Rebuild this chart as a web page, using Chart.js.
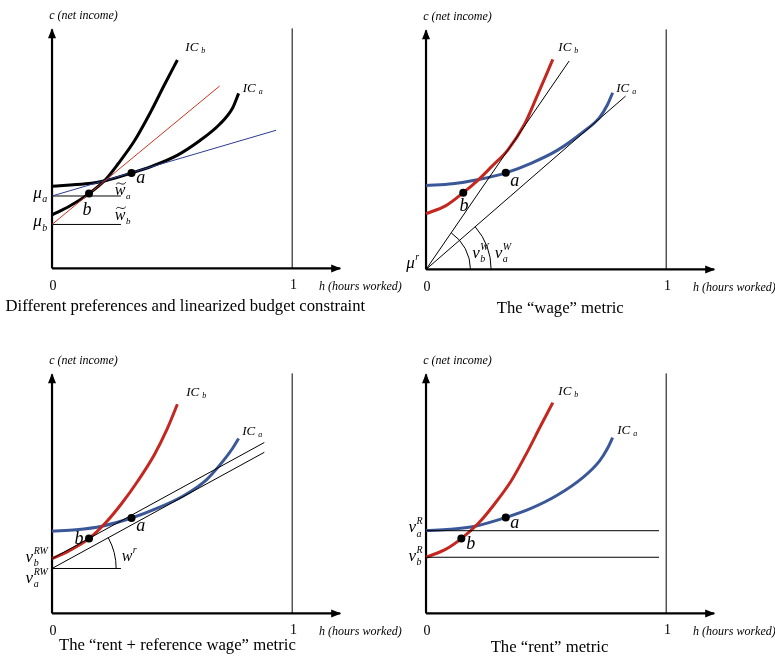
<!DOCTYPE html>
<html>
<head>
<meta charset="utf-8">
<script src="https://cdn.jsdelivr.net/npm/chart.js@4.4.1/dist/chart.umd.min.js"></script>
<style>
  body { margin: 0; width: 775px; height: 661px; overflow: hidden; background: #fff; position: relative; }
  canvas { position: absolute; }
</style>
</head>
<body>
<canvas id="p1" width="404" height="330" style="left:0;top:0"></canvas>
<canvas id="p2" width="404" height="330" style="left:374px;top:1px"></canvas>
<canvas id="p3" width="404" height="330" style="left:0;top:345px"></canvas>
<canvas id="p4" width="404" height="330" style="left:374px;top:345px"></canvas>
<script>
// text
var X_TITLE = 'h (hours worked)';
var Y_TITLE = 'c (net income)';
var CAPTIONS = [
  'Different preferences and linearized budget constraint',
  'The \u201cwage\u201d metric',
  'The \u201crent + reference wage\u201d metric',
  'The \u201crent\u201d metric'
];

// panel 1: different preferences, linearized budget constraint
var ICB1_H = [0, 0.072, 0.154, 0.222, 0.276, 0.344, 0.412, 0.467, 0.522];
var ICB1_C = [0.224, 0.260, 0.313, 0.371, 0.439, 0.535, 0.657, 0.766, 0.872];
var ICA1_H = [0, 0.140, 0.222, 0.331, 0.412, 0.521, 0.616, 0.698, 0.752, 0.777];
var ICA1_C = [0.344, 0.354, 0.367, 0.399, 0.426, 0.473, 0.535, 0.603, 0.671, 0.732];
var BUDGET_B1_H = [0, 0.698], BUDGET_B1_C = [0.184, 0.763];
var BUDGET_A1_H = [0, 0.933], BUDGET_A1_C = [0.303, 0.578];
var MU_A = 0.303, MU_B = 0.184, MU_LINE_END = 0.287;
var PTS1_H = [0.331, 0.154], PTS1_C = [0.399, 0.313];

// panel 2: wage metric
var ICB2_H = [0, 0.083, 0.155, 0.219, 0.273, 0.341, 0.410, 0.464, 0.505, 0.528];
var ICB2_C = [0.233, 0.267, 0.321, 0.376, 0.430, 0.500, 0.607, 0.729, 0.824, 0.879];
var ICA2_H = [0, 0.110, 0.219, 0.332, 0.437, 0.546, 0.654, 0.722, 0.756, 0.777];
var ICA2_C = [0.351, 0.358, 0.376, 0.404, 0.444, 0.498, 0.575, 0.635, 0.690, 0.739];
var RAY_B2_H = [0, 0.596], RAY_B2_C = [0, 0.872];
var RAY_A2_H = [0, 0.831], RAY_A2_C = [0, 0.725];
var ARC_B2 = 0.185, ARC_A2 = 0.271;
var PTS2_H = [0.332, 0.155], PTS2_C = [0.404, 0.321];

// panel 3: rent + reference wage metric
var ICB3_H = [0, 0.072, 0.154, 0.222, 0.290, 0.358, 0.426, 0.480, 0.522];
var ICB3_C = [0.229, 0.263, 0.313, 0.378, 0.460, 0.555, 0.664, 0.773, 0.875];
var ICA3_H = [0, 0.100, 0.208, 0.331, 0.439, 0.548, 0.644, 0.712, 0.752, 0.777];
var ICA3_C = [0.344, 0.350, 0.365, 0.399, 0.440, 0.492, 0.560, 0.637, 0.691, 0.732];
var REF_B3_H = [0, 0.884], REF_B3_C = [0.229, 0.715];
var REF_A3_H = [0, 0.884], REF_A3_C = [0.188, 0.674];
var REF_HLINE_END = 0.287, ARC_W3 = 0.267;
var PTS3_H = [0.331, 0.154], PTS3_C = [0.399, 0.313];

// panel 4: rent metric
var ICB4_H = [0, 0.083, 0.147, 0.219, 0.287, 0.355, 0.423, 0.478, 0.528];
var ICB4_C = [0.235, 0.269, 0.313, 0.378, 0.460, 0.555, 0.678, 0.786, 0.882];
var ICA4_H = [0, 0.100, 0.205, 0.332, 0.437, 0.546, 0.654, 0.722, 0.756, 0.777];
var ICA4_C = [0.347, 0.352, 0.365, 0.401, 0.439, 0.494, 0.569, 0.637, 0.691, 0.735];
var RENT_A4 = 0.346, RENT_B4 = 0.235, RENT_LINE_END = 0.970;
var PTS4_H = [0.332, 0.147], PTS4_C = [0.401, 0.313];

var RED = '#c4271f', BLUE = '#3a5797', BLACK = '#000';
var SERIF = '"Liberation Serif", "DejaVu Serif", serif';

// 245px per unit on both axes
var X_MIN = -0.2, X_MAX = -0.2 + 404 / 245;
var Y_MAX = 271 / 245, Y_MIN = Y_MAX - 330 / 245;

function pts(xs, ys) {
  return xs.map(function (x, i) { return { x: x, y: ys[i] }; });
}
function curve(xs, ys, color, width, order) {
  return { data: pts(xs, ys), showLine: true, borderColor: color, borderWidth: width,
           pointRadius: 0, cubicInterpolationMode: 'monotone', order: order };
}
function seg(xs, ys, color, width, order) {
  return { data: pts(xs, ys), showLine: true, borderColor: color, borderWidth: width,
           pointRadius: 0, tension: 0, order: order };
}
function dots(xs, ys) {
  return { data: pts(xs, ys), showLine: false, pointRadius: 4, pointBackgroundColor: BLACK,
           pointBorderWidth: 0, order: 0 };
}
function frame() {
  return [
    seg([0, 0], [0, 1.0], BLACK, 2.2, 9),
    seg([0, 1.2], [0, 0], BLACK, 2.2, 9),
    seg([1, 1], [0, 1.004], BLACK, 1, 9)
  ];
}

function tx(ctx, s, x, y, size, style, align) {
  ctx.font = (style || '') + ' ' + size + 'px ' + SERIF;
  ctx.textAlign = align || 'left';
  ctx.textBaseline = 'alphabetic';
  ctx.fillText(s, x, y);
  return ctx.measureText(s).width;
}
function sym(ctx, x, y, base, sub, sup, size) {
  var w = tx(ctx, base, x, y, size, 'italic');
  var s = Math.round(size * 0.6);
  if (sub) tx(ctx, sub, x + w + 0.5, y + size * 0.25, s, 'italic');
  if (sup) tx(ctx, sup, x + w + 0.5, y - size * 0.48, s, 'italic');
}
function tildeW(ctx, x, y, sub) {
  var w = tx(ctx, 'w', x, y, 16, 'italic');
  // tilde accent
  var a = x + 1.5, b = x + w + 0.5, t = y - 12;
  ctx.beginPath();
  ctx.moveTo(a, t + 1);
  ctx.bezierCurveTo(a + (b - a) * 0.3, t - 3, a + (b - a) * 0.6, t + 4, b, t - 1);
  ctx.strokeStyle = BLACK; ctx.lineWidth = 0.9;
  ctx.stroke();
  tx(ctx, sub, x + w + 0.5, y + 4, 9, 'italic');
}
function ic(ctx, x, y, sub) {
  var w = tx(ctx, 'IC', x, y, 13, 'italic');
  tx(ctx, sub, x + w + 3, y + 2, 8, 'italic');
}

function commonDeco(ctx, X, Y, caption, capX, capY) {
  ctx.fillStyle = BLACK;
  // arrowheads
  ctx.beginPath();
  ctx.moveTo(X(0), Y(1.0) - 1); ctx.lineTo(X(0) - 4, Y(1.0) + 9); ctx.lineTo(X(0) + 4, Y(1.0) + 9);
  ctx.closePath(); ctx.fill();
  ctx.beginPath();
  ctx.moveTo(X(1.2) + 1, Y(0)); ctx.lineTo(X(1.2) - 9, Y(0) - 4); ctx.lineTo(X(1.2) - 9, Y(0) + 4);
  ctx.closePath(); ctx.fill();
  tx(ctx, Y_TITLE, X(-0.012), Y(1.043), 12, 'italic');
  tx(ctx, X_TITLE, X(1.112), Y(-0.092), 12, 'italic');
  tx(ctx, '0', X(0.004), Y(-0.092), 14, '', 'center');
  tx(ctx, '1', X(1.006), Y(-0.084), 14, '', 'center');
  tx(ctx, caption, X(capX), Y(capY), 16.7, '', 'center');
}

function arcAt(ctx, X, Y, y0, r, x1, y1) {
  var cx = X(0), cy = Y(y0);
  var ang = Math.atan2(cy - Y(y1), X(x1) - cx);
  ctx.beginPath();
  ctx.strokeStyle = BLACK; ctx.lineWidth = 1;
  ctx.arc(cx, cy, X(r) - cx, -ang, 0);
  ctx.stroke();
}

var DECO = [
  function (ctx, X, Y) {
    commonDeco(ctx, X, Y, CAPTIONS[0], 0.555, -0.180);
    ic(ctx, X(0.555), Y(0.910), 'b');
    ic(ctx, X(0.794), Y(0.739), 'a');
    sym(ctx, X(-0.078), Y(0.294), '\u03bc', 'a', null, 17);
    sym(ctx, X(-0.078), Y(0.176), '\u03bc', 'b', null, 17);
    tildeW(ctx, X(0.261), Y(0.306), 'a');
    tildeW(ctx, X(0.261), Y(0.204), 'b');
    tx(ctx, 'a', X(0.351), Y(0.359), 18, 'italic');
    tx(ctx, 'b', X(0.127), Y(0.224), 18, 'italic');
  },
  function (ctx, X, Y) {
    commonDeco(ctx, X, Y, CAPTIONS[1], 0.559, -0.184);
    arcAt(ctx, X, Y, 0, ARC_B2, RAY_B2_H[1], RAY_B2_C[1]);
    arcAt(ctx, X, Y, 0, ARC_A2, RAY_A2_H[1], RAY_A2_C[1]);
    ic(ctx, X(0.551), Y(0.914), 'b');
    ic(ctx, X(0.792), Y(0.743), 'a');
    tx(ctx, 'a', X(0.351), Y(0.351), 18, 'italic');
    tx(ctx, 'b', X(0.139), Y(0.245), 18, 'italic');
    sym(ctx, X(-0.082), Y(0.004), '\u03bc', null, 'r', 17);
    sym(ctx, X(0.192), Y(0.049), '\u03bd', 'b', 'W', 17);
    sym(ctx, X(0.286), Y(0.049), '\u03bd', 'a', 'W', 17);
  },
  function (ctx, X, Y) {
    commonDeco(ctx, X, Y, CAPTIONS[2], 0.522, -0.155);
    arcAt(ctx, X, Y, REF_A3_C[0], ARC_W3, REF_A3_H[1], REF_A3_C[1]);
    ic(ctx, X(0.559), Y(0.910), 'b');
    ic(ctx, X(0.792), Y(0.747), 'a');
    tx(ctx, 'a', X(0.351), Y(0.343), 18, 'italic');
    tx(ctx, 'b', X(0.094), Y(0.290), 18, 'italic');
    sym(ctx, X(0.290), Y(0.220), 'w', null, 'r', 16);
    sym(ctx, X(-0.110), Y(0.216), '\u03bd', 'b', 'RW', 17);
    sym(ctx, X(-0.110), Y(0.127), '\u03bd', 'a', 'RW', 17);
  },
  function (ctx, X, Y) {
    commonDeco(ctx, X, Y, CAPTIONS[3], 0.514, -0.163);
    ic(ctx, X(0.551), Y(0.914), 'b');
    ic(ctx, X(0.796), Y(0.751), 'a');
    tx(ctx, 'a', X(0.351), Y(0.359), 18, 'italic');
    tx(ctx, 'b', X(0.167), Y(0.269), 18, 'italic');
    sym(ctx, X(-0.073), Y(0.339), '\u03bd', 'a', 'R', 17);
    sym(ctx, X(-0.073), Y(0.220), '\u03bd', 'b', 'R', 17);
  }
];

var PANELS = [
  [
    dots(PTS1_H, PTS1_C),
    seg(BUDGET_B1_H, BUDGET_B1_C, '#d0321e', 1, 1),
    seg(BUDGET_A1_H, BUDGET_A1_C, '#2b3c8f', 1, 1),
    seg([0, MU_LINE_END], [MU_A, MU_A], BLACK, 1, 2),
    seg([0, MU_LINE_END], [MU_B, MU_B], BLACK, 1, 2),
    curve(ICB1_H, ICB1_C, BLACK, 3, 3),
    curve(ICA1_H, ICA1_C, BLACK, 3, 3)
  ],
  [
    dots(PTS2_H, PTS2_C),
    seg(RAY_B2_H, RAY_B2_C, BLACK, 1, 1),
    seg(RAY_A2_H, RAY_A2_C, BLACK, 1, 1),
    curve(ICB2_H, ICB2_C, RED, 3, 3),
    curve(ICA2_H, ICA2_C, BLUE, 3, 3)
  ],
  [
    dots(PTS3_H, PTS3_C),
    seg(REF_B3_H, REF_B3_C, BLACK, 1, 1),
    seg(REF_A3_H, REF_A3_C, BLACK, 1, 1),
    seg([0, REF_HLINE_END], [REF_A3_C[0], REF_A3_C[0]], BLACK, 1, 1),
    curve(ICB3_H, ICB3_C, RED, 3, 3),
    curve(ICA3_H, ICA3_C, BLUE, 3, 3)
  ],
  [
    dots(PTS4_H, PTS4_C),
    seg([0, RENT_LINE_END], [RENT_A4, RENT_A4], BLACK, 1, 1),
    seg([0, RENT_LINE_END], [RENT_B4, RENT_B4], BLACK, 1, 1),
    curve(ICB4_H, ICB4_C, RED, 3, 3),
    curve(ICA4_H, ICA4_C, BLUE, 3, 3)
  ]
];

PANELS.forEach(function (sets, i) {
  new Chart(document.getElementById('p' + (i + 1)), {
    type: 'scatter',
    data: { datasets: sets.concat(frame()) },
    options: {
      responsive: false,
      animation: false,
      events: [],
      layout: { padding: 0 },
      plugins: { legend: { display: false }, tooltip: { enabled: false } },
      scales: {
        x: { type: 'linear', display: false, min: X_MIN, max: X_MAX },
        y: { type: 'linear', display: false, min: Y_MIN, max: Y_MAX }
      }
    },
    plugins: [{
      id: 'deco',
      afterDatasetsDraw: function (chart) {
        var ctx = chart.ctx;
        var X = function (v) { return chart.scales.x.getPixelForValue(v); };
        var Y = function (v) { return chart.scales.y.getPixelForValue(v); };
        ctx.save();
        DECO[i](ctx, X, Y);
        ctx.restore();
      }
    }]
  });
});
</script>
</body>
</html>
